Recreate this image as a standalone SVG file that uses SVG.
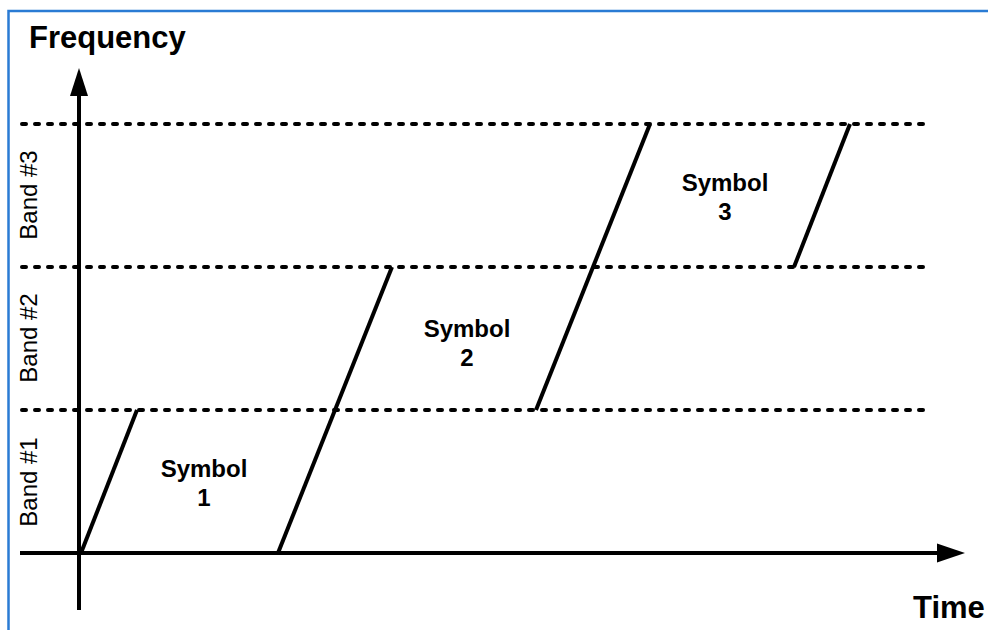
<svg xmlns="http://www.w3.org/2000/svg" width="988" height="630" viewBox="0 0 988 630">
<defs>
<style>
.frame{fill:none;stroke:#2a7bd4;stroke-width:2.5}
.axis{stroke:#000;stroke-width:4;fill:none}
.band{stroke:#000;stroke-width:4;stroke-dasharray:4 9;stroke-linecap:round;fill:none}
.sweep{stroke:#000;stroke-width:4;fill:none;stroke-linecap:butt}
.head{fill:#000}
.title{font-family:"Liberation Sans",Arial,sans-serif;font-weight:bold;font-size:31px;fill:#000}
.sym{font-family:"Liberation Sans",Arial,sans-serif;font-weight:bold;font-size:24px;fill:#000;text-anchor:middle}
.bandlbl{font-family:"Liberation Sans",Arial,sans-serif;font-size:24px;fill:#000;text-anchor:middle}
</style>
</defs>
<rect width="988" height="630" fill="#fff"/>
<rect class="frame" x="8.5" y="11" width="1000" height="700"/>
<g id="bands">
<line class="band" x1="22" y1="124" x2="928" y2="124"/>
<line class="band" x1="22" y1="267" x2="928" y2="267"/>
<line class="band" x1="22" y1="410" x2="928" y2="410"/>
</g>
<g id="axes">
<line class="axis" x1="79" y1="610" x2="79" y2="94"/>
<polygon class="head" points="79,68 70,96 88,96"/>
<line class="axis" x1="20" y1="553" x2="939" y2="553"/>
<polygon class="head" points="965,553 937,543.5 937,562.5"/>
</g>
<g id="connectors">
<line class="sweep" x1="81" y1="553" x2="137" y2="410"/>
<line class="sweep" x1="278" y1="553" x2="392" y2="267"/>
<line class="sweep" x1="536" y1="410" x2="650" y2="124"/>
<line class="sweep" x1="794" y1="267" x2="850" y2="124"/>
</g>
<g id="labels">
<text class="title" x="29" y="48">Frequency</text>
<text class="title" x="913" y="618">Time</text>
<text class="bandlbl" transform="translate(37,482) rotate(-90)">Band #1</text>
<text class="bandlbl" transform="translate(37,338) rotate(-90)">Band #2</text>
<text class="bandlbl" transform="translate(37,195) rotate(-90)">Band #3</text>
</g>
<g id="symbol1"><text class="sym" x="204" y="477">Symbol</text><text class="sym" x="204" y="506">1</text></g>
<g id="symbol2"><text class="sym" x="467" y="337">Symbol</text><text class="sym" x="467" y="366">2</text></g>
<g id="symbol3"><text class="sym" x="725" y="191">Symbol</text><text class="sym" x="725" y="220">3</text></g>
</svg>
